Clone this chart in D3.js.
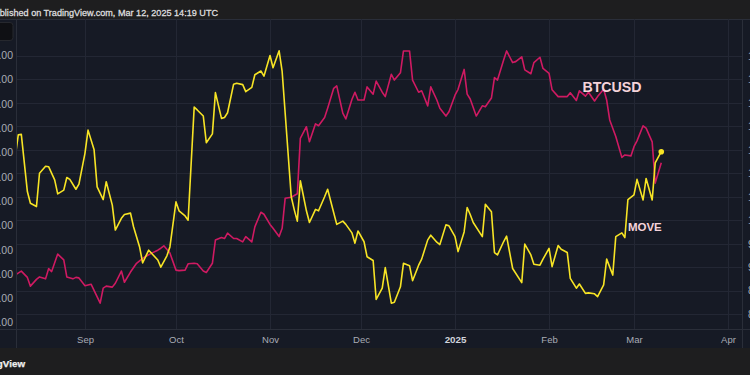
<!DOCTYPE html>
<html><head><meta charset="utf-8">
<script src="https://cdn.jsdelivr.net/npm/d3@7"></script>
<style>
html,body{margin:0;padding:0;background:#161a25;overflow:hidden}
svg{display:block;font-family:"Liberation Sans",Arial,sans-serif}
</style></head>
<body><svg id="c" width="750" height="375"></svg>
<script>
// ---- data ----
const btcDates = ["2024-08-09","2024-08-11","2024-08-13","2024-08-14","2024-08-16","2024-08-17","2024-08-19","2024-08-20","2024-08-21","2024-08-23","2024-08-25","2024-08-26","2024-08-28","2024-08-29","2024-08-30","2024-09-01","2024-09-03","2024-09-06","2024-09-07","2024-09-08","2024-09-10","2024-09-11","2024-09-13","2024-09-14","2024-09-16","2024-09-18","2024-09-20","2024-09-21","2024-09-23","2024-09-25","2024-09-26","2024-09-27","2024-09-29","2024-10-01","2024-10-02","2024-10-04","2024-10-05","2024-10-07","2024-10-08","2024-10-10","2024-10-11","2024-10-13","2024-10-14","2024-10-16","2024-10-17","2024-10-18","2024-10-20","2024-10-21","2024-10-23","2024-10-24","2024-10-26","2024-10-27","2024-10-29","2024-10-30","2024-11-01","2024-11-02","2024-11-04","2024-11-05","2024-11-06","2024-11-08","2024-11-10","2024-11-11","2024-11-13","2024-11-14","2024-11-16","2024-11-17","2024-11-19","2024-11-20","2024-11-22","2024-11-23","2024-11-25","2024-11-26","2024-11-28","2024-11-29","2024-11-30","2024-12-02","2024-12-03","2024-12-05","2024-12-06","2024-12-08","2024-12-09","2024-12-11","2024-12-12","2024-12-14","2024-12-15","2024-12-17","2024-12-18","2024-12-20","2024-12-21","2024-12-23","2024-12-24","2024-12-26","2024-12-27","2024-12-29","2024-12-30","2025-01-01","2025-01-02","2025-01-04","2025-01-05","2025-01-06","2025-01-08","2025-01-10","2025-01-11","2025-01-13","2025-01-14","2025-01-15","2025-01-17","2025-01-18","2025-01-20","2025-01-21","2025-01-23","2025-01-24","2025-01-26","2025-01-27","2025-01-29","2025-01-30","2025-02-01","2025-02-02","2025-02-04","2025-02-07","2025-02-08","2025-02-10","2025-02-11","2025-02-13","2025-02-14","2025-02-16","2025-02-17","2025-02-19","2025-02-20","2025-02-21","2025-02-23","2025-02-25","2025-02-26","2025-02-28","2025-03-01","2025-03-02","2025-03-04","2025-03-05","2025-03-07","2025-03-08","2025-03-10"];
const btcValues = [59800,60600,59300,57500,58900,59400,59000,61100,60500,64100,62900,59400,59000,59300,59200,57600,57900,54000,57100,57500,57300,58100,60600,58300,60400,62200,63200,63600,64300,64900,65300,65800,64300,60800,60700,60800,62100,62200,62100,60600,60300,62200,67000,67500,67300,68400,67300,67300,66600,67700,66600,69700,72700,72300,70200,69400,67700,69400,75600,75800,76500,87900,90300,87200,90900,90500,92200,94100,98200,98700,93100,91900,95900,97400,95800,95800,98500,97000,99700,97400,96500,101100,99900,101400,105900,105900,99900,97400,97700,94600,98500,95800,94100,92500,93400,96800,98000,102100,97000,96000,92500,94600,94400,96200,100400,99900,104000,105900,103500,103700,104700,102000,101200,103500,104600,102300,101300,97900,96500,96500,97300,95700,97700,96600,97400,95600,96500,98000,95800,91700,88300,84000,84500,84300,86200,87400,90500,90000,87200,78700,82900];

const moveDates = ["2024-08-09","2024-08-10","2024-08-11","2024-08-13","2024-08-14","2024-08-16","2024-08-17","2024-08-19","2024-08-20","2024-08-22","2024-08-23","2024-08-25","2024-08-26","2024-08-27","2024-08-29","2024-08-30","2024-09-01","2024-09-02","2024-09-04","2024-09-05","2024-09-07","2024-09-08","2024-09-10","2024-09-11","2024-09-13","2024-09-14","2024-09-16","2024-09-17","2024-09-19","2024-09-20","2024-09-22","2024-09-23","2024-09-25","2024-09-26","2024-09-28","2024-09-29","2024-10-01","2024-10-02","2024-10-04","2024-10-05","2024-10-07","2024-10-08","2024-10-10","2024-10-11","2024-10-13","2024-10-14","2024-10-16","2024-10-17","2024-10-18","2024-10-20","2024-10-21","2024-10-23","2024-10-24","2024-10-26","2024-10-27","2024-10-29","2024-10-30","2024-11-01","2024-11-02","2024-11-04","2024-11-05","2024-11-08","2024-11-09","2024-11-10","2024-11-11","2024-11-13","2024-11-14","2024-11-16","2024-11-17","2024-11-19","2024-11-20","2024-11-22","2024-11-23","2024-11-25","2024-11-26","2024-11-28","2024-11-29","2024-11-30","2024-12-02","2024-12-03","2024-12-05","2024-12-06","2024-12-08","2024-12-09","2024-12-11","2024-12-12","2024-12-14","2024-12-15","2024-12-17","2024-12-18","2024-12-20","2024-12-21","2024-12-23","2024-12-24","2024-12-26","2024-12-27","2024-12-29","2024-12-30","2025-01-01","2025-01-02","2025-01-04","2025-01-05","2025-01-06","2025-01-07","2025-01-10","2025-01-11","2025-01-13","2025-01-14","2025-01-15","2025-01-17","2025-01-18","2025-01-20","2025-01-23","2025-01-24","2025-01-26","2025-01-27","2025-01-29","2025-01-30","2025-02-01","2025-02-02","2025-02-04","2025-02-05","2025-02-07","2025-02-08","2025-02-10","2025-02-11","2025-02-13","2025-02-14","2025-02-16","2025-02-17","2025-02-19","2025-02-20","2025-02-22","2025-02-23","2025-02-25","2025-02-26","2025-02-27","2025-03-01","2025-03-02","2025-03-04","2025-03-05","2025-03-07","2025-03-08","2025-03-10"];
const moveValues = [113.5,118.2,118.3,106.1,103.6,102.9,110.0,111.5,111.4,108.6,105.6,106.4,109.1,108.7,106.6,107.7,114.3,119.2,115.0,107.1,104.4,108.2,103.2,97.9,100.4,101.2,101.5,98.6,94.3,90.9,93.6,92.9,91.5,90.0,92.4,94.3,103.9,102.0,100.9,100.0,124.1,123.5,122.2,116.5,118.4,127.2,121.7,121.9,122.9,129.0,129.2,128.9,127.4,128.3,131.0,131.8,130.7,135.1,132.5,136.1,131.7,105.0,102.2,99.8,108.4,102.0,99.5,102.3,102.0,105.0,106.6,101.6,99.1,99.8,99.1,97.3,95.1,97.7,95.4,92.2,91.4,83.1,85.5,89.9,82.3,82.5,85.8,90.8,90.3,87.1,90.4,91.7,95.8,96.8,95.3,94.8,99.0,98.8,96.5,93.3,97.5,102.7,101.2,99.5,96.5,103.4,101.8,93.1,92.6,95.4,96.6,89.7,86.7,94.9,92.6,90.6,90.4,91.7,94.0,90.1,94.6,93.8,93.1,87.6,85.5,86.4,84.4,84.5,84.3,83.7,86.2,91.7,88.3,96.5,97.3,96.3,104.4,105.4,108.7,104.3,108.9,104.3,112.2,114.6];

const monthTicks = ["2024-09-01","2024-10-01","2024-11-01","2024-12-01","2025-01-01","2025-02-01","2025-03-01","2025-04-01"];
const monthLabels = ["Sep","Oct","Nov","Dec","2025","Feb","Mar","Apr"];
const btcTicks = [50000,55000,60000,65000,70000,75000,80000,85000,90000,95000,100000,105000];
const moveTicks = [80,85,90,95,100,105,110,115,120,125,130,135];
const seriesNames = ["BTCUSD","MOVE"];
const headerText = "Published on TradingView.com, Mar 12, 2025 14:19 UTC";
const footerText = "TradingView";

// ---- layout ----
const W = 750, H = 375;
const plotL = 16, plotR = 742, plotT = 19, plotB = 329, footT = 348;
const parse = d3.utcParse("%Y-%m-%d");

const x = d3.scaleUtc().domain([parse("2024-09-01"), parse("2025-04-01")]).range([85, 728]);
const yBtc = d3.scaleLinear().domain([50000, 105000]).range([322.6, 55.3]);
const yMove = d3.scaleLinear().domain([80, 135]).range([314, 56]);

const svg = d3.select("#c");
svg.append("rect").attr("width", W).attr("height", H).attr("fill", "#161a25");

// header
svg.append("rect").attr("x",0).attr("y",0).attr("width",W).attr("height",plotT).attr("fill","#1e1e1f");
svg.append("text").attr("x",218).attr("y",15.6).attr("text-anchor","end")
  .attr("fill","#dcdcde").attr("stroke","#dcdcde").attr("stroke-width",0.3)
  .attr("font-size",9.1).text(headerText);
svg.append("line").attr("x1",0).attr("x2",W).attr("y1",plotT+0.5).attr("y2",plotT+0.5).attr("stroke","#2a2e39");

// grid
const grid = svg.append("g");
grid.selectAll("line.h").data(moveTicks).join("line")
  .attr("x1",plotL).attr("x2",plotR).attr("y1",d=>Math.round(yMove(d))+0.5).attr("y2",d=>Math.round(yMove(d))+0.5)
  .attr("stroke","#232734").attr("stroke-width",1);
grid.selectAll("line.v").data(monthTicks).join("line")
  .attr("y1",plotT).attr("y2",plotB).attr("x1",d=>Math.round(x(parse(d)))+0.5).attr("x2",d=>Math.round(x(parse(d)))+0.5)
  .attr("stroke","#232734").attr("stroke-width",1);

// small button top-left
svg.append("rect").attr("x",-6).attr("y",22.5).attr("width",19).attr("height",18).attr("rx",3)
  .attr("fill","#0f1014").attr("stroke","#26282e");

// borders
svg.append("line").attr("x1",plotL+0.5).attr("x2",plotL+0.5).attr("y1",plotT).attr("y2",footT).attr("stroke","#2a2e39");
svg.append("line").attr("x1",plotR+0.5).attr("x2",plotR+0.5).attr("y1",plotT).attr("y2",footT).attr("stroke","#2a2e39");
svg.append("line").attr("x1",0).attr("x2",W).attr("y1",plotB+0.5).attr("y2",plotB+0.5).attr("stroke","#2a2e39");

// axes
const fmt2 = d3.format(".2f");
const axL = svg.append("g").attr("transform",`translate(${plotL},0)`)
  .call(d3.axisLeft(yBtc).tickValues(btcTicks).tickSize(0).tickPadding(3).tickFormat(fmt2));
const axR = svg.append("g").attr("transform",`translate(${plotR},0)`)
  .call(d3.axisRight(yMove).tickValues(moveTicks).tickSize(0).tickPadding(6).tickFormat(fmt2));
const axB = svg.append("g").attr("transform",`translate(0,${plotB})`)
  .call(d3.axisBottom(x).tickValues(monthTicks.map(parse)).tickSize(0).tickPadding(7.5)
    .tickFormat((d,i)=>monthLabels[i]));
[axL,axR,axB].forEach(a=>{
  a.select(".domain").remove();
  a.selectAll("text").attr("fill","#a9acb5").attr("font-size",10.5)
    .attr("font-family","'Liberation Sans',Arial,sans-serif");
});
axB.selectAll("text").attr("font-size",9.5);
axB.selectAll("text").filter((d,i)=>monthLabels[i]==="2025").attr("font-weight","bold").attr("fill","#d1d4dc").attr("font-size",9.8);

// clip
svg.append("clipPath").attr("id","pc").append("rect")
  .attr("x",plotL+1).attr("y",plotT+1).attr("width",plotR-plotL-1).attr("height",plotB-plotT-1);

const btc = btcDates.map((d,i)=>({t:parse(d), v:btcValues[i]}));
const mv = moveDates.map((d,i)=>({t:parse(d), v:moveValues[i]}));

const g = svg.append("g").attr("clip-path","url(#pc)");
g.append("path").datum(btc)
  .attr("d", d3.line().x(d=>x(d.t)).y(d=>yBtc(d.v)))
  .attr("fill","none").attr("stroke","#cf1a62").attr("stroke-width",1.6).attr("stroke-linejoin","round");
g.append("path").datum(mv)
  .attr("d", d3.line().x(d=>x(d.t)).y(d=>yMove(d.v)))
  .attr("fill","none").attr("stroke","#f7e425").attr("stroke-width",1.6).attr("stroke-linejoin","round");
const last = mv[mv.length-1];
g.append("circle").attr("cx",x(last.t)).attr("cy",yMove(last.v)).attr("r",2.8).attr("fill","#f7e425");

// series labels
svg.append("text").attr("x",x(parse("2025-02-12"))).attr("y",yBtc(97400))
  .attr("fill","#f5d3da").attr("font-weight","bold").attr("font-size",14.2).text(seriesNames[0]);
svg.append("text").attr("x",x(parse("2025-02-27"))).attr("y",yMove(97.7))
  .attr("fill","#f5d3da").attr("font-weight","bold").attr("font-size",11.5).text(seriesNames[1]);

// footer
svg.append("rect").attr("x",0).attr("y",footT).attr("width",W).attr("height",H-footT).attr("fill","#1e1e1f");
svg.append("text").attr("x",25).attr("y",366.8).attr("text-anchor","end")
  .attr("fill","#f0f0f0").attr("stroke","#f0f0f0").attr("stroke-width",0.25)
  .attr("font-weight","bold").attr("font-size",9.8).text(footerText);
</script></body></html>
